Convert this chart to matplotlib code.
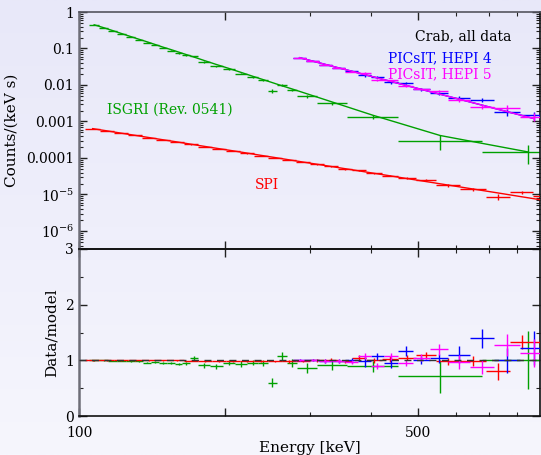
import numpy as np
import matplotlib
matplotlib.use('Agg')
import matplotlib.pyplot as plt
from matplotlib.ticker import FixedLocator, FixedFormatter, NullFormatter, LogLocator, MultipleLocator

plt.rcParams['font.family'] = ['DejaVu Serif']
plt.rcParams['mathtext.fontset'] = 'dejavuserif'

# ---- ISGRI (Rev. 0541) : bin edges [keV], model counts, data/model, error
isgri_edges = [105, 110, 115, 120, 125, 130.5, 135.5, 141, 146, 152, 158, 163, 169, 176,
               186, 198, 210, 222, 234, 245, 256, 268.5, 282, 310, 357, 455, 678, 1050]
isgri_model = [0.446, 0.371, 0.308, 0.256, 0.213, 0.179, 0.152, 0.129, 0.109, 0.0927,
               0.0797, 0.0689, 0.0585, 0.0472, 0.0365, 0.0283, 0.0221, 0.0174, 0.0141,
               0.0116, 0.0095, 0.00777, 0.0057, 0.00342, 0.00149, 0.000413, 0.000146]
isgri_ratio = [1.0, 1.0, 0.99, 0.99, 0.98, 0.98, 0.96, 0.97, 0.955, 0.95, 0.93, 0.95, 1.04,
               0.91, 0.89, 0.96, 0.93, 0.96, 0.95, 0.6, 1.07, 0.95, 0.87, 0.91, 0.89, 0.71, 1.0]
isgri_err = [0.01, 0.01, 0.01, 0.01, 0.01, 0.015, 0.015, 0.015, 0.02, 0.02, 0.02, 0.025,
             0.03, 0.04, 0.04, 0.05, 0.05, 0.05, 0.06, 0.08, 0.08, 0.07, 0.09, 0.09, 0.1,
             0.3, 0.52]

# ---- SPI
spi_edges = [103, 110.5, 118, 126, 135, 144, 154, 165, 176, 188, 201, 215, 230, 245, 262,
             280, 299, 320, 342, 366, 391, 422, 455, 495, 545, 611, 691, 774, 863, 981]
spi_model = [6.37e-4, 5.54e-4, 4.81e-4, 4.18e-4, 3.63e-4, 3.16e-4, 2.75e-4, 2.38e-4,
             2.07e-4, 1.80e-4, 1.57e-4, 1.36e-4, 1.18e-4, 1.03e-4, 8.93e-5, 7.76e-5,
             6.75e-5, 5.86e-5, 5.09e-5, 4.42e-5, 3.80e-5, 3.24e-5, 2.73e-5, 2.26e-5,
             1.81e-5, 1.41e-5, 1.10e-5, 8.67e-6, 6.75e-6]
spi_ratio = [1.0, 1.0, 1.0, 1.0, 1.0, 1.0, 1.0, 0.99, 0.99, 0.98, 0.98, 0.99, 0.99, 0.98,
             0.98, 0.99, 1.0, 1.01, 0.98, 1.05, 1.0, 1.02, 1.05, 1.09, 0.98, 0.98, 0.8,
             1.33, 1.33]
spi_err = [0.01, 0.01, 0.01, 0.01, 0.01, 0.01, 0.01, 0.01, 0.015, 0.015, 0.015, 0.015,
           0.015, 0.015, 0.02, 0.02, 0.025, 0.03, 0.03, 0.04, 0.04, 0.05, 0.05, 0.06,
           0.07, 0.09, 0.16, 0.12, 0.15]

# ---- PICsIT (HEPI 4 and HEPI 5 share the binning)
pic_edges = [276, 294, 312.5, 332, 354, 376, 400, 425, 455, 488, 529, 577, 640, 717, 812, 927]
pic_model = [0.0560, 0.0452, 0.0366, 0.0295, 0.0239, 0.0193, 0.0156, 0.0125, 0.00984,
             0.00757, 0.00568, 0.00409, 0.00281, 0.00186, 0.00120]
hepi4_ratio = [1.0, 1.0, 0.99, 0.99, 1.0, 0.98, 1.07, 0.95, 1.16, 1.0, 1.04, 1.1, 1.4, 1.0, 1.22]
hepi4_err = [0.02, 0.02, 0.03, 0.03, 0.04, 0.1, 0.06, 0.09, 0.09, 0.07, 0.08, 0.15, 0.17, 0.22, 0.3]
hepi5_ratio = [1.0, 1.0, 0.99, 0.99, 0.97, 1.08, 0.9, 1.07, 0.95, 1.05, 1.2, 0.97, 0.88, 1.28, 1.13]
hepi5_err = [0.02, 0.02, 0.03, 0.03, 0.04, 0.06, 0.05, 0.06, 0.06, 0.07, 0.1, 0.12, 0.12, 0.2, 0.25]

GREEN = '#00a000'
RED = '#ff0000'
BLUE = '#0000ff'
MAGENTA = '#ff00ff'

W, H = 541, 455
fig = plt.figure(figsize=(W / 100, H / 100), dpi=100)

# soft lavender background gradient
bg = fig.add_axes([0, 0, 1, 1], zorder=-10)
grad = np.linspace(0, 1, 256)[:, None]
top_c = np.array([232, 232, 249]) / 255
bot_c = np.array([246, 246, 253]) / 255
img = top_c[None, None, :] * (1 - grad[:, :, None]) + bot_c[None, None, :] * grad[:, :, None]
bg.imshow(img, aspect='auto', extent=[0, 1, 0, 1])
bg.axis('off')

x0, x1 = 79 / W, 540 / W
ax = fig.add_axes([x0, 1 - 249 / H, x1 - x0, (249 - 12) / H])
axr = fig.add_axes([x0, 1 - 416 / H, x1 - x0, (416 - 249) / H], sharex=ax)
for a in (ax, axr):
    a.set_facecolor('none')


def draw(edges, model, ratio, err, color, z):
    edges = np.array(edges)
    lo, hi = edges[:-1], edges[1:]
    c = np.sqrt(lo * hi)
    model = np.array(model)
    ratio = np.array(ratio)
    err = np.array(err)
    counts = model * ratio
    ax.errorbar(c, counts, xerr=[c - lo, hi - c], yerr=model * err, fmt='none',
                ecolor=color, elinewidth=1.0, zorder=z)
    ax.plot(c, model, color=color, lw=1.0, zorder=z + 0.5)
    axr.errorbar(c, ratio, xerr=[c - lo, hi - c], yerr=err, fmt='none',
                 ecolor=color, elinewidth=1.0, zorder=z)


draw(isgri_edges, isgri_model, isgri_ratio, isgri_err, GREEN, 2)
draw(spi_edges, spi_model, spi_ratio, spi_err, RED, 3)
draw(pic_edges, pic_model, hepi4_ratio, hepi4_err, BLUE, 4)
draw(pic_edges, pic_model, hepi5_ratio, hepi5_err, MAGENTA, 5)
axr.axhline(1.0, color='#333333', lw=1.0, ls=(0, (5, 4)), zorder=10)

ax.set_xscale('log')
ax.set_yscale('log')
ax.set_xlim(100, 892)
ax.set_ylim(3.21e-7, 1)
axr.set_ylim(0, 3)

ax.yaxis.set_major_locator(FixedLocator([1, 0.1, 0.01, 0.001, 1e-4, 1e-5, 1e-6]))
ax.yaxis.set_major_formatter(FixedFormatter(['1', '0.1', '0.01', '0.001', '0.0001',
                                             r'$10^{-5}$', r'$10^{-6}$']))
ax.yaxis.set_minor_locator(LogLocator(base=10, subs=range(2, 10), numticks=20))
ax.yaxis.set_minor_formatter(NullFormatter())

axr.xaxis.set_major_locator(FixedLocator([100, 200, 500]))
axr.xaxis.set_major_formatter(FixedFormatter(['100', '', '500']))
axr.xaxis.set_minor_locator(FixedLocator([300, 400, 600, 700, 800, 900]))
axr.xaxis.set_minor_formatter(NullFormatter())
axr.yaxis.set_major_locator(MultipleLocator(1))
axr.yaxis.set_minor_locator(MultipleLocator(0.5))
plt.setp(ax.get_xticklabels(), visible=False)

for a in (ax, axr):
    a.tick_params(which='both', direction='in', top=True, right=True, labelsize=10,
                  color='#222222')
    a.tick_params(which='major', length=6, width=1.0)
    a.tick_params(which='minor', length=3, width=0.8)
    for s in ('top', 'bottom', 'right'):
        a.spines[s].set_color('#111111')
        a.spines[s].set_linewidth(1.2)
    a.spines['left'].set_color('#6e6e78')
    a.spines['left'].set_linewidth(1.8)
ax.spines['top'].set_color('#55555f')
axr.tick_params(axis='x', pad=7)

ax.set_ylabel('Counts/(keV s)', fontsize=11, labelpad=5)
axr.set_ylabel('Data/model', fontsize=11, labelpad=5)
axr.set_xlabel('Energy [keV]', fontsize=11, labelpad=1)

ax.text(415 / W, 1 - 36 / H, 'Crab, all data', transform=fig.transFigure,
        fontsize=10, color='black', va='center', ha='left')
ax.text(388 / W, 1 - 58 / H, 'PICsIT, HEPI 4', transform=fig.transFigure,
        fontsize=10, color=BLUE, va='center', ha='left')
ax.text(388 / W, 1 - 74 / H, 'PICsIT, HEPI 5', transform=fig.transFigure,
        fontsize=10, color=MAGENTA, va='center', ha='left')
ax.text(107 / W, 1 - 110 / H, 'ISGRI (Rev. 0541)', transform=fig.transFigure,
        fontsize=10, color=GREEN, va='center', ha='left')
ax.text(255 / W, 1 - 185 / H, 'SPI', transform=fig.transFigure,
        fontsize=10, color=RED, va='center', ha='left')

fig.savefig('out.png', dpi=100)
